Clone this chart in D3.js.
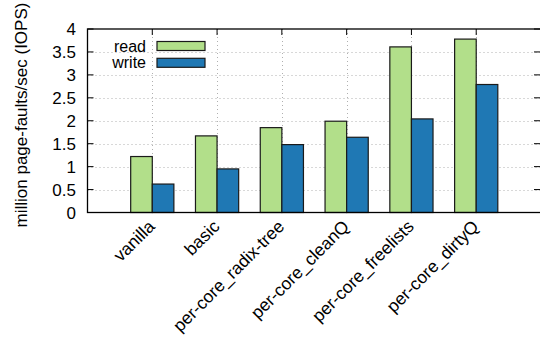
<!DOCTYPE html>
<html>
<head>
<meta charset="utf-8">
<script src="https://cdn.jsdelivr.net/npm/d3@7"></script>
<style>
  html, body { margin: 0; padding: 0; background: #fff; overflow: hidden; }
  svg { display: block; font-family: "Liberation Sans", Arial, Helvetica, sans-serif; }
</style>
</head>
<body>
<svg id="chart" width="540" height="341"></svg>
<script>
// Page-fault throughput per allocator variant
const categories = ["vanilla", "basic", "per-core_radix-tree", "per-core_cleanQ", "per-core_freelists", "per-core_dirtyQ"];
const seriesNames = ["read", "write"];
const readValues  = [1.22, 1.67, 1.85, 1.99, 3.61, 3.78];
const writeValues = [0.62, 0.95, 1.48, 1.64, 2.04, 2.79];
const yTicks = [0, 0.5, 1, 1.5, 2, 2.5, 3, 3.5, 4];
const yTickLabels = ["0", "0.5", "1", "1.5", "2", "2.5", "3", "3.5", "4"];
const colors = ["#b2df8a", "#1f78b4"];

const svg = d3.select("#chart");
const m = { left: 87.5, right: 541, top: 29, bottom: 212.5 };

// Category slots: each category sits at an integer position, range [-1, 6]
const x = d3.scaleLinear().domain([-1, 6]).range([m.left, m.right]);
const y = d3.scaleLinear().domain([0, 4]).range([m.bottom, m.top]);
const barW = x(1 / 3) - x(0);

// grid
const grid = svg.append("g").attr("stroke", "#b0b0b0").attr("stroke-width", 1)
  .attr("stroke-dasharray", "1,3");
grid.selectAll("line.h").data(yTicks.slice(1, -1)).join("line")
  .attr("x1", m.left).attr("x2", m.right)
  .attr("y1", d => Math.round(y(d)) + 0.5).attr("y2", d => Math.round(y(d)) + 0.5);
grid.selectAll("line.v").data(categories).join("line")
  .attr("x1", (d, i) => Math.round(x(i)) + 0.5).attr("x2", (d, i) => Math.round(x(i)) + 0.5)
  .attr("y1", m.top).attr("y2", m.bottom);

// bars
const series = [readValues, writeValues];
series.forEach((vals, s) => {
  svg.append("g").selectAll("rect").data(vals).join("rect")
    .attr("x", (d, i) => x(i) + (s === 0 ? -barW : 0))
    .attr("y", d => y(d))
    .attr("width", barW)
    .attr("height", d => y(0) - y(d))
    .attr("fill", colors[s])
    .attr("stroke", "#1a1a1a")
    .attr("stroke-width", 1.2);
});

// frame
svg.append("rect")
  .attr("x", m.left).attr("y", m.top)
  .attr("width", m.right - m.left).attr("height", m.bottom - m.top)
  .attr("fill", "none").attr("stroke", "#000").attr("stroke-width", 1.3);

// y ticks (left and mirrored right)
const yAxis = svg.append("g");
yAxis.selectAll("line.l").data(yTicks).join("line")
  .attr("x1", m.left).attr("x2", m.left + 6)
  .attr("y1", d => y(d)).attr("y2", d => y(d)).attr("stroke", "#000");
yAxis.selectAll("line.r").data(yTicks).join("line")
  .attr("x1", 534).attr("x2", m.right)
  .attr("y1", d => y(d)).attr("y2", d => y(d)).attr("stroke", "#000");
yAxis.selectAll("text").data(yTicks).join("text")
  .attr("x", 76).attr("y", d => y(d) + 6)
  .attr("text-anchor", "end").attr("font-size", 17).attr("fill", "#000")
  .text((d, i) => yTickLabels[i]);

// x ticks (mirrored on top) and rotated category labels
const xAxis = svg.append("g");
xAxis.selectAll("line.t").data(categories).join("line")
  .attr("x1", (d, i) => x(i)).attr("x2", (d, i) => x(i))
  .attr("y1", m.top).attr("y2", m.top + 6).attr("stroke", "#000");
xAxis.selectAll("text").data(categories).join("text")
  .attr("text-anchor", "end").attr("font-size", 17.5).attr("fill", "#000")
  .attr("transform", (d, i) => `translate(${x(i) + 3.5},${m.bottom + 15}) rotate(-45)`)
  .text(d => d);

// y axis title
svg.append("text")
  .attr("transform", `translate(26.5,${115}) rotate(-90)`)
  .attr("text-anchor", "middle").attr("font-size", 17).attr("fill", "#000")
  .text("million page-faults/sec (IOPS)");

// legend
const legend = svg.append("g");
seriesNames.forEach((name, s) => {
  const cy = 46 + s * 16.8;
  legend.append("text")
    .attr("x", 146).attr("y", cy + 5.5)
    .attr("text-anchor", "end").attr("font-size", 16).attr("fill", "#000")
    .text(name);
  legend.append("rect")
    .attr("x", 157).attr("y", cy - 4.5).attr("width", 48).attr("height", 9)
    .attr("fill", colors[s]).attr("stroke", "#1a1a1a").attr("stroke-width", 1.2);
});
</script>
</body>
</html>
